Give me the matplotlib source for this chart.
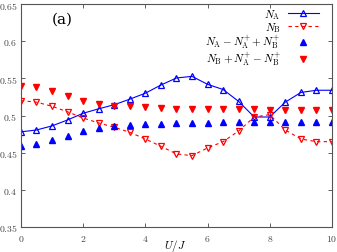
import numpy as np
import matplotlib
matplotlib.use("Agg")
import matplotlib.pyplot as plt

plt.rcParams['mathtext.fontset'] = 'cm'
plt.rcParams['font.family'] = 'serif'
plt.rcParams['font.serif'] = ['DejaVu Serif']

# U/J grid
u = [0.0, 0.5, 1.0, 1.5, 2.0, 2.5, 3.0, 3.5, 4.0, 4.5, 5.0,
     5.5, 6.0, 6.5, 7.0, 7.5, 8.0, 8.5, 9.0, 9.5, 10.0]

n_a = [0.478, 0.4805, 0.486, 0.494, 0.503, 0.509, 0.5145, 0.522, 0.530, 0.541, 0.5505,
       0.5527, 0.542, 0.535, 0.519, 0.498, 0.498, 0.518, 0.531, 0.534, 0.534]
n_b = [0.520, 0.518, 0.5124, 0.505, 0.4966, 0.490, 0.4842, 0.4774, 0.4684, 0.4586, 0.4483,
       0.446, 0.4563, 0.4648, 0.4792, 0.498, 0.5011, 0.4805, 0.4684, 0.4648, 0.4648]
n_a_mix = [0.4594, 0.4612, 0.467, 0.4728, 0.4796, 0.4836, 0.4855, 0.4872, 0.4886, 0.489, 0.490,
           0.490, 0.490, 0.4908, 0.4908, 0.4908, 0.4908, 0.4908, 0.4917, 0.4917, 0.4917]
n_b_mix = [0.5393, 0.538, 0.5334, 0.5266, 0.520, 0.5155, 0.513, 0.5124, 0.511, 0.510, 0.5092,
           0.509, 0.509, 0.509, 0.509, 0.509, 0.5078, 0.5074, 0.5074, 0.5074, 0.5074]

xticks = [0, 2, 4, 6, 8, 10]
yticks = [0.35, 0.4, 0.45, 0.5, 0.55, 0.6, 0.65]
ytick_labels = ["0.35", "0.4", "0.45", "0.5", "0.55", "0.6", "0.65"]

fig = plt.figure(figsize=(3.37, 2.53), dpi=100)
ax = fig.add_axes([0.062, 0.099, 0.923, 0.881])

ax.plot(u, n_a, color='blue', lw=0.8, marker='^', ms=5, mfc='none', mew=0.9,
        label=r"$N_\mathrm{A}$")
ax.plot(u, n_b, color='red', lw=0.8, ls=(0, (3, 3)), marker='v', ms=5, mfc='none', mew=0.9,
        label=r"$N_\mathrm{B}$")
ax.plot(u, n_a_mix, ls='none', color='blue', marker='^', ms=5,
        label=r"$N_\mathrm{A}-N_\mathrm{A}^{+}+N_\mathrm{B}^{+}$")
ax.plot(u, n_b_mix, ls='none', color='red', marker='v', ms=5,
        label=r"$N_\mathrm{B}+N_\mathrm{A}^{+}-N_\mathrm{B}^{+}$")

ax.set_xlim(0, 10)
ax.set_ylim(0.35, 0.65)
ax.set_xticks(xticks)
ax.set_xticklabels(["$%d$" % t for t in xticks])
ax.set_yticks(yticks)
ax.set_yticklabels(["$%s$" % s for s in ytick_labels])
ax.tick_params(direction='in', top=True, right=True, labelsize=7, length=3,
               width=0.6, colors='#444444')
ax.tick_params(axis='x', pad=4)
ax.tick_params(axis='y', pad=2.5)
for s in ax.spines.values():
    s.set_color('#555555')
    s.set_linewidth(0.8)

ax.set_xlabel(r"$U/J$", fontsize=8)
ax.xaxis.set_label_coords(0.495, -0.047)
ax.text(0.1, 0.935, "(a)", transform=ax.transAxes, fontsize=11,
        fontfamily='DejaVu Serif', va='center')

ax.legend(loc='upper right', frameon=False, markerfirst=False, fontsize=8,
          handlelength=2.8, handletextpad=0.6, labelspacing=-0.1, borderaxespad=0.1,
          bbox_to_anchor=(0.975, 1.01))

fig.savefig("out.png", dpi=100)
